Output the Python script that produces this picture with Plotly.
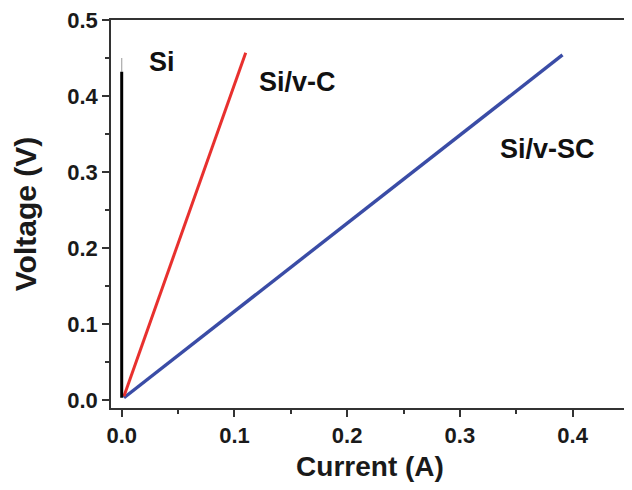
import plotly.graph_objects as go

# Data
si_current = [0.0, 0.0]
si_voltage = [0.003, 0.432]
si_tail_current = [0.0, 0.0]
si_tail_voltage = [0.432, 0.45]
sivc_current = [0.002, 0.110]
sivc_voltage = [0.005, 0.457]
sivsc_current = [0.002, 0.391]
sivsc_voltage = [0.003, 0.454]

labels = ["Si", "Si/v-C", "Si/v-SC"]
label_x = [0.022, 0.120, 0.334]
label_y = [0.445, 0.419, 0.330]

x_ticks = [0.0, 0.1, 0.2, 0.3, 0.4]
y_ticks = [0.0, 0.1, 0.2, 0.3, 0.4, 0.5]

FONT = "Liberation Sans, Arial, sans-serif"

fig = go.Figure()
fig.add_trace(go.Scatter(x=sivsc_current, y=sivsc_voltage, mode="lines",
                         line=dict(color="#3a4ca6", width=3.4)))
fig.add_trace(go.Scatter(x=sivc_current, y=sivc_voltage, mode="lines",
                         line=dict(color="#e8302e", width=3)))
fig.add_trace(go.Scatter(x=si_tail_current, y=si_tail_voltage, mode="lines",
                         line=dict(color="#aaaaaa", width=1.2)))
fig.add_trace(go.Scatter(x=si_current, y=si_voltage, mode="lines",
                         line=dict(color="#000000", width=3)))

for t, x, y in zip(labels, label_x, label_y):
    fig.add_annotation(x=x, y=y, text="<b>%s</b>" % t, showarrow=False,
                       xanchor="left", yanchor="middle",
                       font=dict(family=FONT, size=27, color="#111111"))

axis_common = dict(showline=True, linecolor="#333333", linewidth=1.5, mirror=True,
                   ticks="outside", ticklen=7, tickwidth=1.5, tickcolor="#333333",
                   showgrid=False, zeroline=False, ticklabeloverflow="allow",
                   tickfont=dict(family=FONT, size=22, color="#1a1a1a"),
                   minor=dict(ticks="outside", ticklen=4, tickwidth=1.5, tickcolor="#333333",
                              dtick=0.05, showgrid=False))

fig.update_xaxes(range=[-0.0095, 0.450], tickvals=x_ticks,
                 ticktext=["<b>%.1f</b>" % v for v in x_ticks],
                 title=dict(text="<b>Current (A)</b>", standoff=11,
                            font=dict(family=FONT, size=28, color="#1a1a1a")),
                 **axis_common)
fig.update_yaxes(range=[-0.0105, 0.5], tickvals=y_ticks,
                 ticktext=["<b>%.1f</b>" % v for v in y_ticks],
                 title=dict(text="<b>Voltage (V)</b>", standoff=22,
                            font=dict(family=FONT, size=30, color="#1a1a1a")),
                 **axis_common)

fig.update_layout(width=624, height=474, showlegend=False,
                  plot_bgcolor="white", paper_bgcolor="white",
                  margin=dict(l=103, r=3, t=12, b=74, autoexpand=False))

fig.write_html("out.html")
